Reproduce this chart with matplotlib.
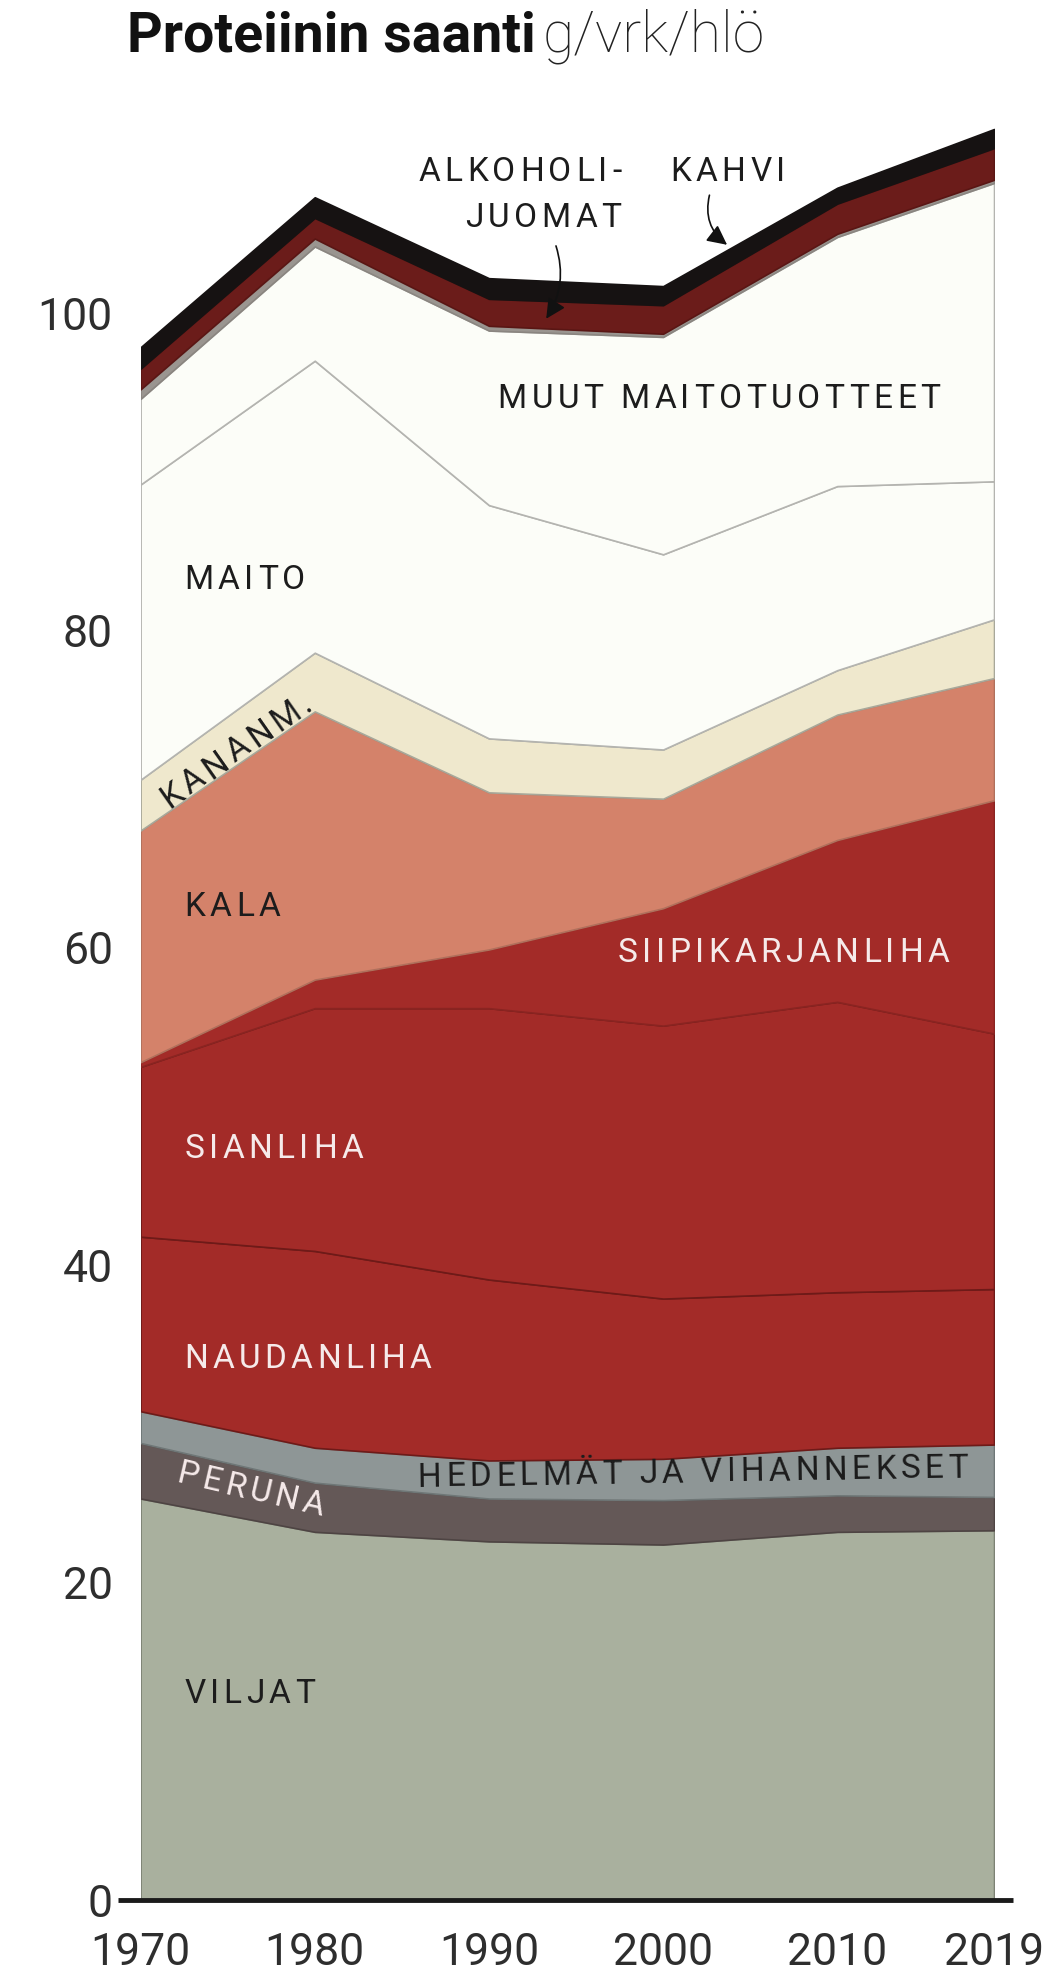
import matplotlib
matplotlib.use("Agg")
import matplotlib.pyplot as plt
import numpy as np

plt.rcParams['font.family'] = ['Roboto', 'DejaVu Sans']

years = [1970, 1980, 1990, 2000, 2010, 2019]

# protein intake per food group, g/day/person (layer thickness)
viljat = [25.3, 23.2, 22.6, 22.4, 23.2, 23.3]
peruna = [3.5, 3.1, 2.7, 2.8, 2.3, 2.1]
hedelmat = [2.0, 2.2, 2.4, 2.6, 3.0, 3.3]
naudanliha = [11.0, 12.4, 11.4, 10.1, 9.8, 9.8]
sianliha = [10.7, 15.3, 17.1, 17.2, 18.3, 16.1]
siipikarja = [0.3, 1.8, 3.7, 7.4, 10.2, 14.7]
kala = [14.6, 16.9, 9.9, 6.9, 7.9, 7.7]
kananmuna = [3.2, 3.7, 3.4, 3.1, 2.8, 3.7]
maito = [18.6, 18.4, 14.7, 12.3, 11.6, 8.7]
muut_maito = [5.4, 7.2, 11.0, 13.7, 15.7, 18.8]
muut = [0.6, 0.5, 0.3, 0.2, 0.2, 0.2]
alkoholi = [1.3, 1.3, 1.7, 1.8, 1.9, 2.0]
kahvi = [1.35, 1.3, 1.3, 1.2, 1.0, 1.2]

layers = [viljat, peruna, hedelmat, naudanliha, sianliha, siipikarja, kala,
          kananmuna, maito, muut_maito, muut, alkoholi, kahvi]
face = ['#a9b09e', '#645857', '#8e9696', '#a32b28', '#a32b28', '#a32b28',
        '#d4826a', '#efe8cd', '#fcfdf8', '#fcfdf8', '#9a9590', '#6b1c1a', '#161212']
edge = ['#7d8274', '#4e4443', '#6f7777', '#6e1a18', '#6e1a18', '#8a2421',
        '#b0705c', '#a8a89a', '#b4b4b0', '#b4b4b0', '#8a8580', '#5a1614', '#161212']

fig = plt.figure(figsize=(10.5, 19.86), dpi=100)
ax = fig.add_axes([0.1339, 0.0433, 0.8128, 0.9189])

base = np.zeros(len(years))
for vals, fc, ec in zip(layers, face, edge):
    top = base + np.array(vals)
    ax.fill_between(years, base, top, facecolor=fc, edgecolor=ec, linewidth=1.2)
    base = top

ax.set_xlim(1970, 2019)
ax.set_ylim(0, 115)
for s in ax.spines.values():
    s.set_visible(False)
ax.set_yticks([0, 20, 40, 60, 80, 100])
ax.set_xticks(years)
ax.tick_params(axis='y', length=0, pad=20, labelsize=32, labelcolor='#2e2e2e')
ax.tick_params(axis='x', length=0, pad=23, labelsize=32, labelcolor='#2e2e2e')

ax.plot([1968.7, 2020.1], [0, 0], color='#1a1a1a', lw=3.5, clip_on=False,
        solid_capstyle='butt', zorder=5)

# title
t1 = fig.text(127 / 1050, 1 - 36 / 1986, 'Proteiinin saanti', fontsize=40,
              fontweight='bold', color='#111111', va='center', ha='left')
fig.canvas.draw()
renderer = fig.canvas.get_renderer()
bb = t1.get_window_extent(renderer)
fig.text(bb.x1 / fig.bbox.width + 0.007, 1 - 36 / 1986, 'g/vrk/hlö', fontsize=41,
         fontweight='light', color='#222222', va='center', ha='left')


def text_width(s, **kw):
    t = fig.text(0, 0, s, **kw)
    w = t.get_window_extent(renderer).width
    t.remove()
    return w


def tracked(x, y, s, track=5.0, ha='left', rotation=0, **kw):
    # letter-spaced label, drawn char by char in pixel coordinates
    wx = text_width('X', **kw)
    offs = [text_width(s[:i] + 'X', **kw) - wx + i * track if i else 0.0
            for i in range(len(s))]
    total = text_width(s, **kw) + (len(s) - 1) * track
    shift = {'left': 0.0, 'center': total / 2, 'right': total}[ha]
    px, py = ax.transData.transform((x, y))
    th = np.radians(rotation)
    for ch, o in zip(s, offs):
        d = o - shift
        fig.text(px + d * np.cos(th), py + d * np.sin(th), ch, transform=None,
                 ha='left', va='center', rotation=rotation,
                 rotation_mode='anchor', **kw)


dark = '#1c1c1c'
light = '#f6eaea'
fs = 24
tr = 4.5
tracked(1997.6, 108.9, 'ALKOHOLI-', tr, ha='right', fontsize=fs, color=dark)
tracked(1997.6, 106.0, 'JUOMAT', tr, ha='right', fontsize=fs, color=dark)
tracked(2000.4, 108.9, 'KAHVI', tr, fontsize=fs, color=dark)
ax.annotate('', xy=(1993.2, 99.5), xytext=(1993.8, 104.4),
            arrowprops=dict(arrowstyle='-|>', color='#111111', lw=1.2,
                            mutation_scale=30, connectionstyle='arc3,rad=-0.25'))
ax.annotate('', xy=(2003.8, 104.2), xytext=(2002.7, 107.6),
            arrowprops=dict(arrowstyle='-|>', color='#111111', lw=1.2,
                            mutation_scale=30, connectionstyle='arc3,rad=0.35'))

tracked(1990.5, 94.6, 'MUUT MAITOTUOTTEET', tr, fontsize=fs, color=dark)
tracked(1972.5, 83.2, 'MAITO', tr, fontsize=fs, color=dark)
tracked(1975.5, 72.4, 'KANANM.', tr, ha='center', rotation=35, fontsize=fs, color=dark)
tracked(1972.5, 62.6, 'KALA', tr, fontsize=fs, color=dark)
tracked(1997.4, 59.7, 'SIIPIKARJANLIHA', tr, fontsize=fs, color=light)
tracked(1972.5, 47.3, 'SIANLIHA', tr, fontsize=fs, color=light)
tracked(1972.5, 34.1, 'NAUDANLIHA', tr, fontsize=fs, color=light)
tracked(1976.3, 25.8, 'PERUNA', tr, ha='center', rotation=-13, fontsize=fs, color=light)
tracked(1985.9, 26.6, 'HEDELMÄT JA VIHANNEKSET', tr, rotation=1, fontsize=fs, color=dark)
tracked(1972.5, 13.0, 'VILJAT', tr, fontsize=fs, color=dark)

fig.savefig('out.png', dpi=100, facecolor='white')
